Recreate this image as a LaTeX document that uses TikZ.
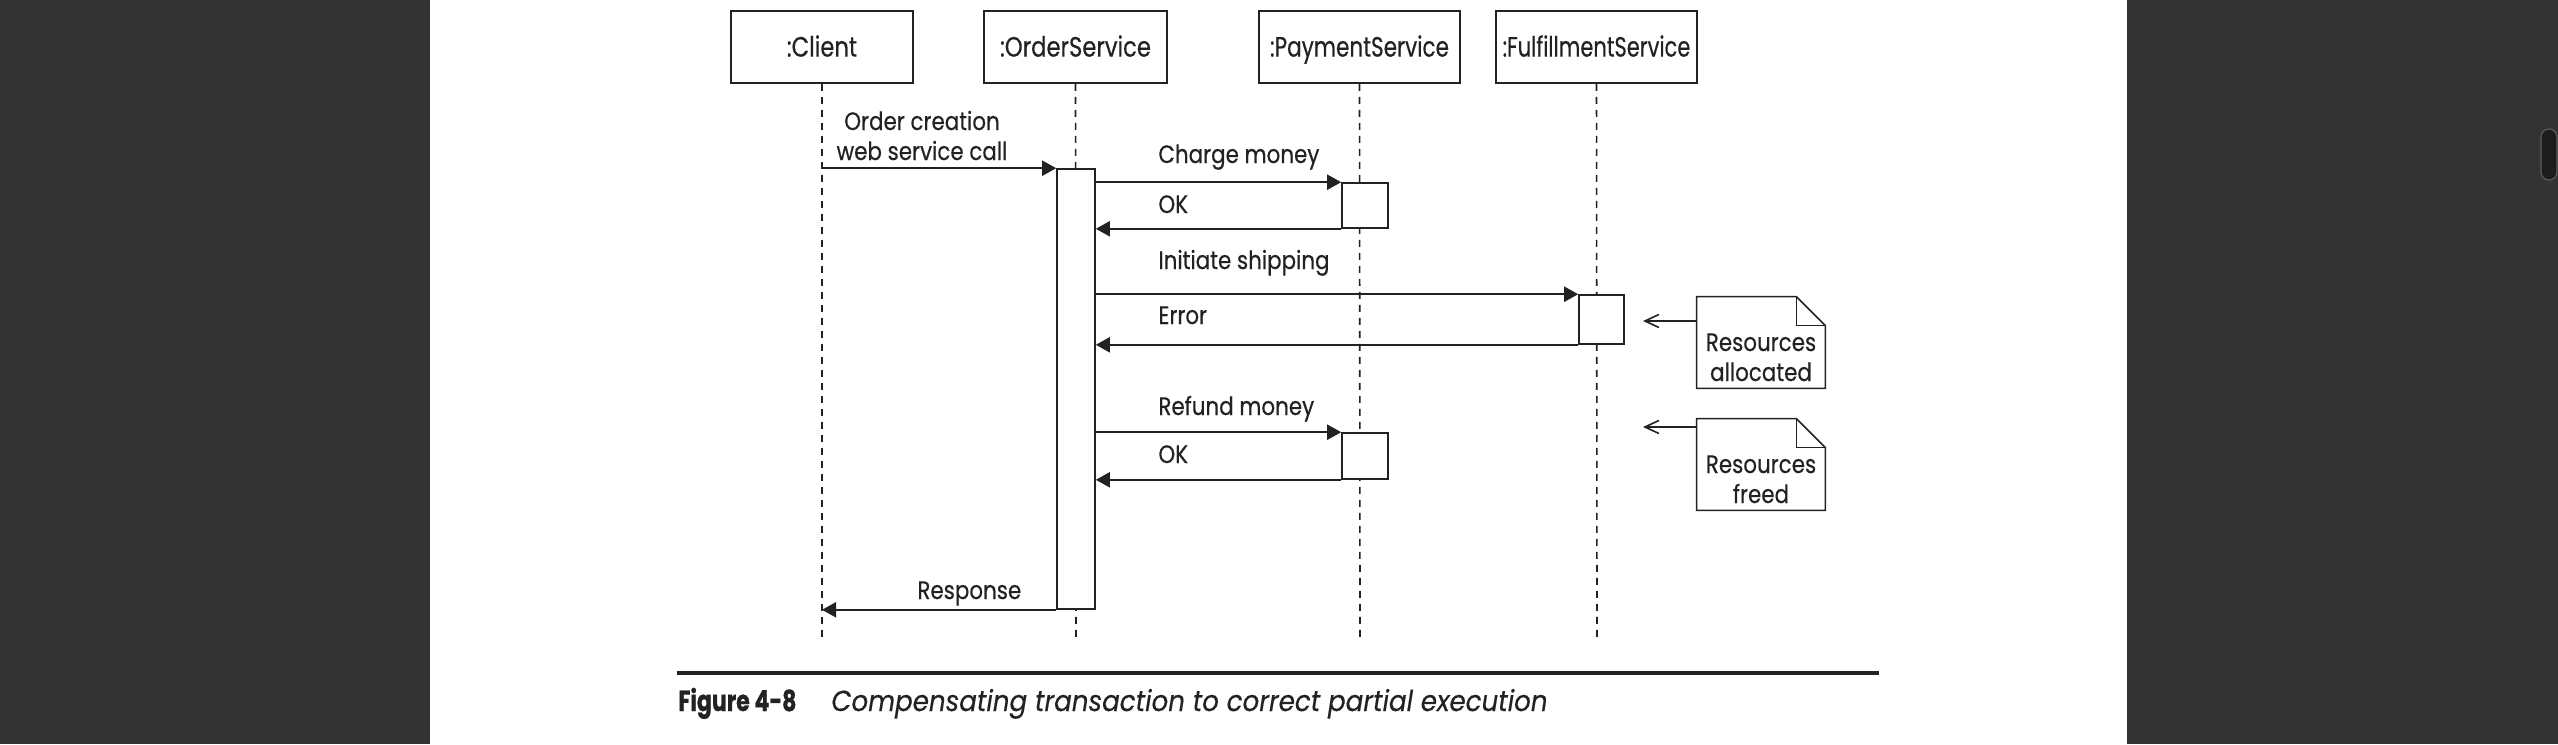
\documentclass[tikz,border=0pt]{standalone}
\usepackage{fontspec}
\usetikzlibrary{arrows.meta}
\setmainfont{Poppins}
\newfontfamily\lblfont{Poppins}[FakeStretch=0.85, FakeBold=0.4]
\newfontfamily\boxfont{Poppins}[FakeStretch=0.81, FakeBold=0.4]
\newfontfamily\boxfontb{Poppins}[FakeStretch=0.77, FakeBold=0.4]
\newfontfamily\boxfontc{Poppins}[FakeStretch=0.75, FakeBold=0.4]
\newfontfamily\figfont{Poppins}[FakeStretch=0.76, FakeBold=0.8]
\newfontfamily\capfont{Poppins}[FakeStretch=0.9, FakeBold=0.3]
\definecolor{ink}{HTML}{222222}
\definecolor{pagedark}{HTML}{333333}
\definecolor{barfill}{HTML}{1C1C1C}
\definecolor{barline}{HTML}{5C5C5C}
\tikzset{
  actor/.style={draw=ink, line width=0.8pt, fill=white, inner sep=0pt, minimum height=36pt,
    text height=9.6pt, text depth=0pt, font=\boxfont\fontsize{14pt}{16pt}\selectfont, text=ink},
  lifeline/.style={draw=ink, line width=0.8pt, dash pattern=on 3.5pt off 3pt},
  actbox/.style={draw=ink, line width=0.8pt, fill=white, inner sep=0pt},
  msg/.style={draw=ink, line width=1pt, -{Triangle[length=7pt,width=7.5pt]}},
  notearrow/.style={draw=ink, line width=0.8pt, -{Straight Barb[length=7pt,width=6.5pt]}},
  notebox/.style={inner sep=0pt, minimum width=64pt, minimum height=45.5pt},
  notepath/.style={draw=ink, line width=0.8pt, fill=white},
  lbl/.style={inner sep=0pt, text=ink, font=\lblfont\fontsize{12.6pt}{15pt}\selectfont},
}
\begin{document}
\begin{tikzpicture}[x=0.5pt, y=-0.5pt]
\useasboundingbox (0,0) rectangle (2558,744);
% page background
\fill[pagedark] (0,0) rectangle (2558,744);
\fill[white] (430,0) rectangle (2127,744);
\draw[fill=barfill, draw=barline, line width=0.6pt, rounded corners=4pt] (2541,129) rectangle (2557,180);

% actors
\node[actor, minimum width=91pt] (client) at (822,47) {:Client};
\node[actor, minimum width=91.5pt] (order) at (1075.5,47) {:OrderService};
\node[actor, minimum width=100.5pt, font=\boxfontb\fontsize{14pt}{16pt}\selectfont] (pay) at (1359.5,47) {:PaymentService};
\node[actor, minimum width=100.5pt, font=\boxfontc\fontsize{14pt}{16pt}\selectfont] (ful) at (1596.5,47) {:FulfillmentService};

% lifeline ends
\coordinate (cEnd) at (822,639);
\coordinate (oEnd) at (1076,639);
\coordinate (pEnd) at (1360,639);
\coordinate (fEnd) at (1597,639);
\draw[lifeline] (client.south) -- (cEnd);
\draw[lifeline] (order.south) -- (oEnd);
\draw[lifeline] (pay.south) -- (pEnd);
\draw[lifeline] (ful.south) -- (fEnd);

% activations
\node[actbox, minimum width=19pt, minimum height=220pt] (aos) at (1076,389) {};
\node[actbox, minimum width=23pt, minimum height=22.5pt] (ap1) at (1365,205.5) {};
\node[actbox, minimum width=22.5pt, minimum height=24.5pt] (af) at (1601.5,319.5) {};
\node[actbox, minimum width=23pt, minimum height=23pt] (ap2) at (1365,456) {};

% messages
\draw[msg] (client.south |- aos.north west) -- (aos.north west);
\draw[msg] (aos.east |- ap1.north west) -- (ap1.north west);
\draw[msg] (ap1.south west) -- (aos.east |- ap1.south west);
\draw[msg] (aos.east |- af.north west) -- (af.north west);
\draw[msg] (af.south west) -- (aos.east |- af.south west);
\draw[msg] (aos.east |- ap2.north west) -- (ap2.north west);
\draw[msg] (ap2.south west) -- (aos.east |- ap2.south west);
\draw[msg] (aos.south west) -- (client.south |- aos.south west);

% message labels
\node[lbl, anchor=base] (l1) at (922,160) {\begin{tabular}[b]{@{}c@{}}Order creation\\web service call\end{tabular}};
\node[lbl, anchor=base west] (l2) at (1158,163) {Charge money};
\node[lbl, anchor=base west] (l3) at (1158,213) {OK};
\node[lbl, anchor=base west] (l4) at (1158,269) {Initiate shipping};
\node[lbl, anchor=base west] (l5) at (1158,324) {Error};
\node[lbl, anchor=base west] (l6) at (1158,415) {Refund money};
\node[lbl, anchor=base west] (l7) at (1158,463) {OK};
\node[lbl, anchor=base west] (l8) at (917,599) {Response};

% notes
\node[notebox] (n1) at (1761,342.5) {};
\node[notebox] (n2) at (1761,464.5) {};
\foreach \n in {n1,n2}{
  \draw[notepath] (\n.south west) -- (\n.north west) -- ([xshift=-14.5pt]\n.north east)
    -- ([yshift=-14.5pt]\n.north east) -- (\n.south east) -- cycle;
  \draw[ink, line width=0.8pt] ([xshift=-14.5pt]\n.north east) |- ([yshift=-14.5pt]\n.north east);
}
\node[lbl, anchor=base] (n1t) at (1761,381) {\begin{tabular}[b]{@{}c@{}}Resources\\allocated\end{tabular}};
\node[lbl, anchor=base] (n2t) at (1761,503) {\begin{tabular}[b]{@{}c@{}}Resources\\freed\end{tabular}};
\coordinate (na1) at (1643,321);
\coordinate (na2) at (1643,427);
\draw[notearrow] (n1.west |- na1) -- (na1);
\draw[notearrow] (n2.west |- na2) -- (na2);

% caption
\coordinate (ruleL) at (677,673);
\coordinate (ruleR) at (1879,673);
\draw[ink, line width=2pt] (ruleL) -- (ruleR);
\node[inner sep=0pt, anchor=base west, text=ink, font=\figfont\bfseries\fontsize{14.5pt}{16pt}\selectfont] (figno) at (678,711) {Figure 4-8};
\node[inner sep=0pt, anchor=base west, text=ink, font=\capfont\itshape\fontsize{14.5pt}{16pt}\selectfont] (captxt) at (831,711) {Compensating transaction to correct partial execution};
\end{tikzpicture}
\end{document}
